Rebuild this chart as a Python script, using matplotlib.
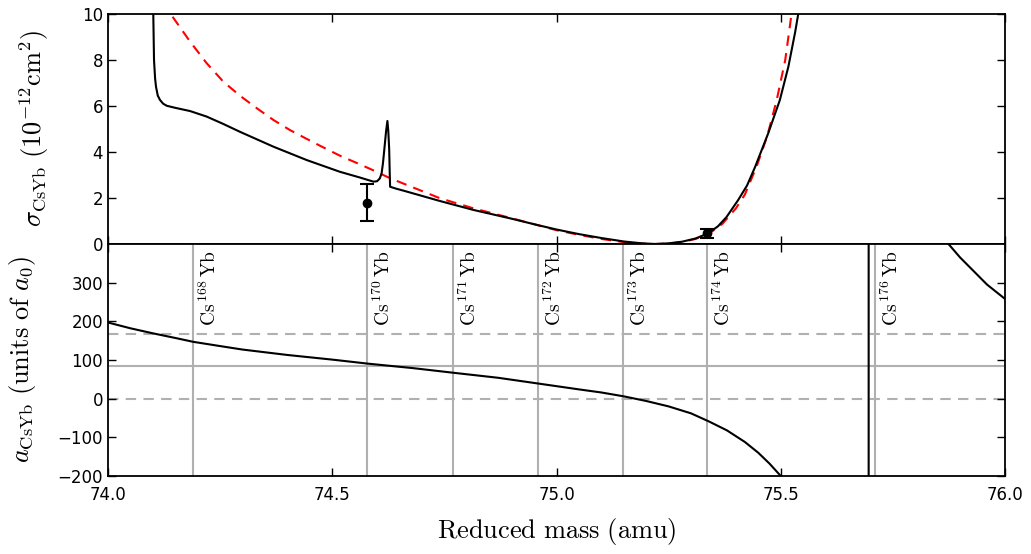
import matplotlib
matplotlib.use("Agg")
import matplotlib.pyplot as plt

plt.rcParams['mathtext.fontset'] = 'cm'
plt.rcParams['font.family'] = ['DejaVu Sans']

# ---- data ----
# Cross-section (black, coupled-channel) in 1e-12 cm^2
sig_x = [74.1000, 74.1010, 74.1026, 74.1050, 74.1070, 74.1110, 74.1160, 74.1230,
         74.1310, 74.1500, 74.1830, 74.2200, 74.2570, 74.2940, 74.3690, 74.4430,
         74.5170, 74.5600, 74.5920, 74.6000, 74.6060, 74.6100, 74.6130, 74.6160,
         74.6200, 74.6230, 74.6250, 74.6270, 74.6280, 74.6290, 74.6400, 74.6660,
         74.7400, 74.8150, 74.9000, 74.9500, 75.0000, 75.0500, 75.1000, 75.1500,
         75.1900, 75.2200, 75.2500, 75.2800, 75.3100, 75.3380, 75.3600, 75.3790,
         75.4050, 75.4250, 75.4430, 75.4720, 75.4980, 75.5170, 75.5320, 75.5390, 75.5450]
sig_y = [10.5, 9.96, 8.0, 7.2, 6.84, 6.45, 6.26, 6.10,
         6.01, 5.92, 5.78, 5.54, 5.22, 4.88, 4.23, 3.65,
         3.14, 2.90, 2.71, 2.73, 2.85, 3.07, 3.50, 4.09,
         4.90, 5.35, 4.90, 4.09, 3.20, 2.49, 2.42, 2.28,
         1.87, 1.48, 1.10, 0.86, 0.63, 0.43, 0.26, 0.11,
         0.03, 0.00, 0.03, 0.10, 0.24, 0.46, 0.77, 1.17,
         1.91, 2.55, 3.36, 4.81, 6.26, 7.71, 9.20, 10.0, 11.0]

# Cross-section from scattering-length model (red dashed)
sig2_x = [74.144, 74.183, 74.220, 74.257, 74.294, 74.332, 74.369, 74.406, 74.443,
          74.480, 74.517, 74.555, 74.592, 74.629, 74.666, 74.740, 74.815, 74.900,
          74.950, 75.000, 75.050, 75.100, 75.150, 75.190, 75.220, 75.250, 75.280,
          75.310, 75.340, 75.370, 75.400, 75.420, 75.446, 75.470, 75.491, 75.510, 75.524]
sig2_y = [9.88, 8.80, 7.86, 7.06, 6.45, 5.90, 5.39, 4.95, 4.57,
          4.20, 3.84, 3.52, 3.20, 2.86, 2.57, 1.99, 1.55, 1.12,
          0.86, 0.60, 0.40, 0.22, 0.08, 0.02, 0.00, 0.02, 0.08,
          0.22, 0.45, 0.88, 1.55, 2.15, 3.36, 4.70, 6.26, 8.00, 10.0]

# Measured points
meas_x = [74.578, 75.336]
meas_y = [1.8, 0.47]
meas_err = [0.8, 0.2]

# Scattering length (units of a0)
a_x = [74.00, 74.05, 74.10, 74.15, 74.19, 74.25, 74.30, 74.40, 74.50, 74.58,
       74.68, 74.77, 74.87, 74.96, 75.05, 75.10, 75.15, 75.20, 75.25, 75.30,
       75.34, 75.38, 75.42, 75.45, 75.475, 75.50, 75.53, 75.56, 75.60, 75.64,
       75.67, 75.6955, 75.6965, 75.72, 75.76, 75.80, 75.84, 75.871, 75.90,
       75.93, 75.96, 76.00]
a_y = [197, 182, 169, 157, 147, 136, 127, 113, 101, 90.5,
       79, 67, 54, 39, 24, 16, 6, -6, -20, -38,
       -59, -82, -112, -140, -168, -200, -245, -300, -420, -700,
       -1400, -20000, 20000, 3000, 1000, 650, 480, 404, 365,
       330, 295, 258]

# Reference lines
abar = [0, 83.5, 167]
abar_styles = ['--', '-', '--']

# Isotopologue reduced masses
iso_mass = [74.190, 74.578, 74.769, 74.959, 75.148, 75.336, 75.710]
iso_label = ['168', '170', '171', '172', '173', '174', '176']

fig = plt.figure(figsize=(10.31, 5.54), dpi=100)
L, R = 108/1031, 1005/1031
ax1 = fig.add_axes([L, 1-244/554, R-L, (244-14)/554])
ax2 = fig.add_axes([L, 1-476/554, R-L, (476-244)/554], sharex=ax1)

for ax in (ax1, ax2):
    ax.tick_params(direction='in', top=True, right=True, labelsize=12,
                   length=6, width=1)
    for s in ax.spines.values():
        s.set_linewidth(1.3)

# top panel
ax1.plot(sig2_x, sig2_y, color='red', ls=(0, (5, 3.5)), lw=1.5)
ax1.plot(sig_x, sig_y, color='black', lw=1.5)
ax1.errorbar(meas_x, meas_y, yerr=meas_err, fmt='o', color='black', ms=6,
             capsize=5, elinewidth=1.5, capthick=1.5)
ax1.set_ylim(0, 10)
ax1.set_yticks([0, 2, 4, 6, 8, 10])
ax1.set_xlim(74.0, 76.0)
ax1.tick_params(labelbottom=False)
ax1.set_ylabel(r'$\sigma_{\mathrm{CsYb}}\ (10^{-12}\mathrm{cm}^2)$', fontsize=19, labelpad=22)

# bottom panel
for m, lab in zip(iso_mass, iso_label):
    ax2.axvline(m, color='#b0b0b0', lw=1.5, zorder=1)
    ax2.text(m + 0.012, 385, r'$\mathrm{Cs}^{\,%s}\,\mathrm{Yb}$' % lab, rotation=90,
             ha='left', va='top', fontsize=14)
for v, st in zip(abar, abar_styles):
    ax2.axhline(v, color='#b0b0b0', lw=1.5, ls=(0, (5, 3.5)) if st == '--' else '-', zorder=1)
ax2.plot(a_x, a_y, color='black', lw=1.5, zorder=3)
ax2.set_ylim(-200, 400)
ax2.set_yticks([-200, -100, 0, 100, 200, 300])
ax2.set_xlim(74.0, 76.0)
ax2.set_xticks([74.0, 74.5, 75.0, 75.5, 76.0])
ax2.set_xticklabels(['74.0', '74.5', '75.0', '75.5', '76.0'])
ax2.tick_params(axis='x', pad=7)
ax2.set_ylabel(r'$a_{\mathrm{CsYb}}\ (\mathrm{units\ of\ }a_0)$', fontsize=19, labelpad=14)
ax2.set_xlabel(r'$\mathrm{Reduced\ mass\ (amu)}$', fontsize=19, labelpad=9)
fig.align_ylabels([ax1, ax2])

fig.savefig('out.png', dpi=100)
